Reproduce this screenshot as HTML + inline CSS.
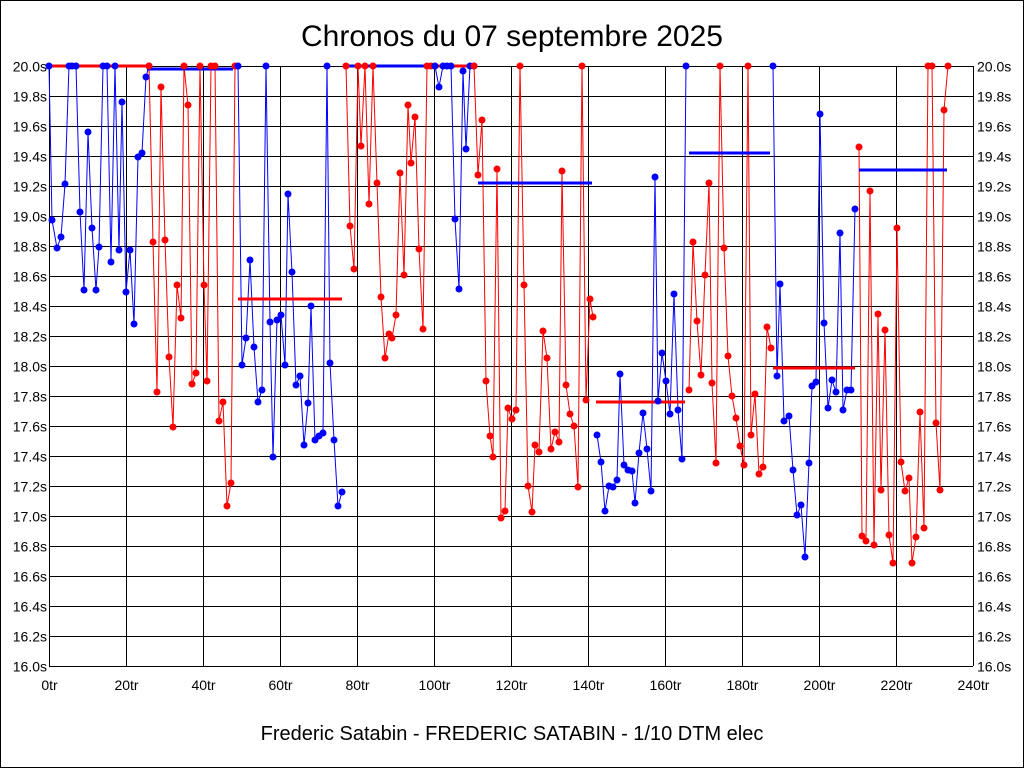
<!DOCTYPE html>
<html><head><meta charset="utf-8"><style>
body{margin:0;background:#fff}
svg{display:block}
text{font-family:"Liberation Sans",sans-serif}
</style></head><body>
<svg id="s" width="1024" height="768" viewBox="0 0 1024 768" xmlns="http://www.w3.org/2000/svg">
<rect x="0.5" y="0.5" width="1023" height="767" fill="#fff" stroke="#000"/>
<text x="512" y="46" font-size="30" text-anchor="middle">Chronos du 07 septembre 2025</text>
<text x="512" y="740" font-size="20" text-anchor="middle">Frederic Satabin - FREDERIC SATABIN - 1/10 DTM elec</text>
<g id="grid" stroke="#000" stroke-width="1"></g>
<g id="lab" font-size="14"></g>
<g id="data"></g>
</svg>
<script>
const NS="http://www.w3.org/2000/svg";
function el(p,t,a,txt){const e=document.createElementNS(NS,t);for(const k in a)e.setAttribute(k,a[k]);if(txt!=null)e.textContent=txt;p.appendChild(e);return e;}
const g=document.getElementById('grid'),l=document.getElementById('lab'),d=document.getElementById('data');
const L=49,R=973,T=66,B=666;
for(let i=0;i<=20;i++){const y=T+i*30+0.5;el(g,'line',{x1:L,x2:R,y1:y,y2:y});
 const v=(20-i*0.2).toFixed(1)+'s';
 el(l,'text',{x:L-2,y:y+5,'text-anchor':'end'},v);el(l,'text',{x:R+4,y:y+5},v);}
for(let i=0;i<=12;i++){const x=L+i*77+0.5;el(g,'line',{x1:x,x2:x,y1:T,y2:B});
 el(l,'text',{x:x,y:B+24,'text-anchor':'middle'},(i*20)+'tr');}
const segs=[
['blue',[[49,66],[52,220],[57,248],[61,237],[65,184],[69,66],[72,66],[76,66],[80,212],[84,290],[88,132],[92,228],[96,290],[99,247],[103,66],[107,66],[111,262],[115,66],[119,250],[122,102],[126,292],[130,250],[134,324],[138,157],[142,153],[146,77],[149,66]]],
['red',[[149,66],[153,242],[157,392],[161,87],[165,240],[169,357],[173,427],[177,285],[181,318],[184,66],[188,105],[192,384],[196,373],[200,66],[204,285],[207,381],[211,66],[215,66],[219,421],[223,402],[227,506],[231,483],[235,66]]],
['blue',[[238,66],[242,365],[246,338],[250,260],[254,347],[258,402],[262,390],[266,66],[270,322],[273,457],[277,320],[281,315],[285,365],[288,194],[292,272],[296,385],[300,376],[304,445],[308,403],[311,306],[315,440],[319,436],[323,433],[327,66],[330,363],[334,440],[338,506],[342,492]]],
['red',[[346,66],[350,226],[354,269],[358,66],[361,146],[365,66],[369,204],[373,66],[377,183],[381,297],[385,358],[389,334],[392,338],[396,315],[400,173],[404,275],[408,105],[411,163],[415,117],[419,249],[423,329],[427,66],[431,66]]],
['blue',[[435,66],[439,87],[443,66],[447,66],[451,66],[455,219],[459,289],[463,71],[466,149],[470,66],[474,66]]],
['red',[[474,66],[478,175],[482,120],[486,381],[490,436],[493,457],[497,169],[501,518],[505,511],[508,408],[512,419],[516,410],[520,66],[524,285],[528,486],[532,512],[535,445],[539,452],[543,331],[547,358],[551,449],[555,432],[559,442],[562,171],[566,385],[570,414],[574,426],[578,487],[582,66],[586,400],[590,299],[593,317]]],
['blue',[[597,435],[601,462],[605,511],[609,486],[613,487],[617,480],[620,374],[624,465],[628,470],[632,471],[635,503],[639,453],[643,413],[647,449],[651,491],[655,177],[658,401],[662,353],[666,381],[670,414],[674,294],[678,410],[682,459],[686,66]]],
['red',[[689,390],[693,242],[697,321],[701,375],[705,275],[709,183],[712,383],[716,463],[720,66],[724,248],[728,356],[732,396],[736,418],[740,446],[744,465],[748,66],[751,435],[755,394],[759,474],[763,467],[767,327],[771,348]]],
['blue',[[773,66],[777,376],[780,284],[784,421],[789,416],[793,470],[797,515],[801,505],[805,557],[809,463],[812,386],[816,382],[820,114],[824,323],[828,408],[832,380],[836,392],[840,233],[843,410],[847,390],[851,390],[855,209]]],
['red',[[859,147],[862,536],[866,541],[870,191],[874,545],[878,314],[881,490],[885,330],[889,535],[893,563],[897,228],[901,462],[905,491],[909,478],[912,563],[916,537],[920,412],[924,528],[928,66],[932,66],[936,423],[940,490],[944,110],[948,66]]]
];
const avg=[['red',49,147,66],['blue',147,233,69],['red',238,342,299],['blue',346,426,66],['red',426,470,66],['blue',478,592,183],['red',596,685,402],['blue',689,770,153],['red',773,855,368],['blue',859,947,170]];
const col={blue:'#0000ff',red:'#ff0000'};
segs.forEach(([c,pts])=>{
 el(d,'polyline',{points:pts.map(p=>p.join(',')).join(' '),fill:'none',stroke:col[c],'stroke-width':1});
});
avg.forEach(([c,x1,x2,y])=>el(d,'line',{x1,x2,y1:y,y2:y,stroke:col[c],'stroke-width':3}));
segs.forEach(([c,pts])=>pts.forEach(p=>el(d,'circle',{cx:p[0],cy:p[1],r:3.5,fill:col[c]})));
</script>
</body></html>
